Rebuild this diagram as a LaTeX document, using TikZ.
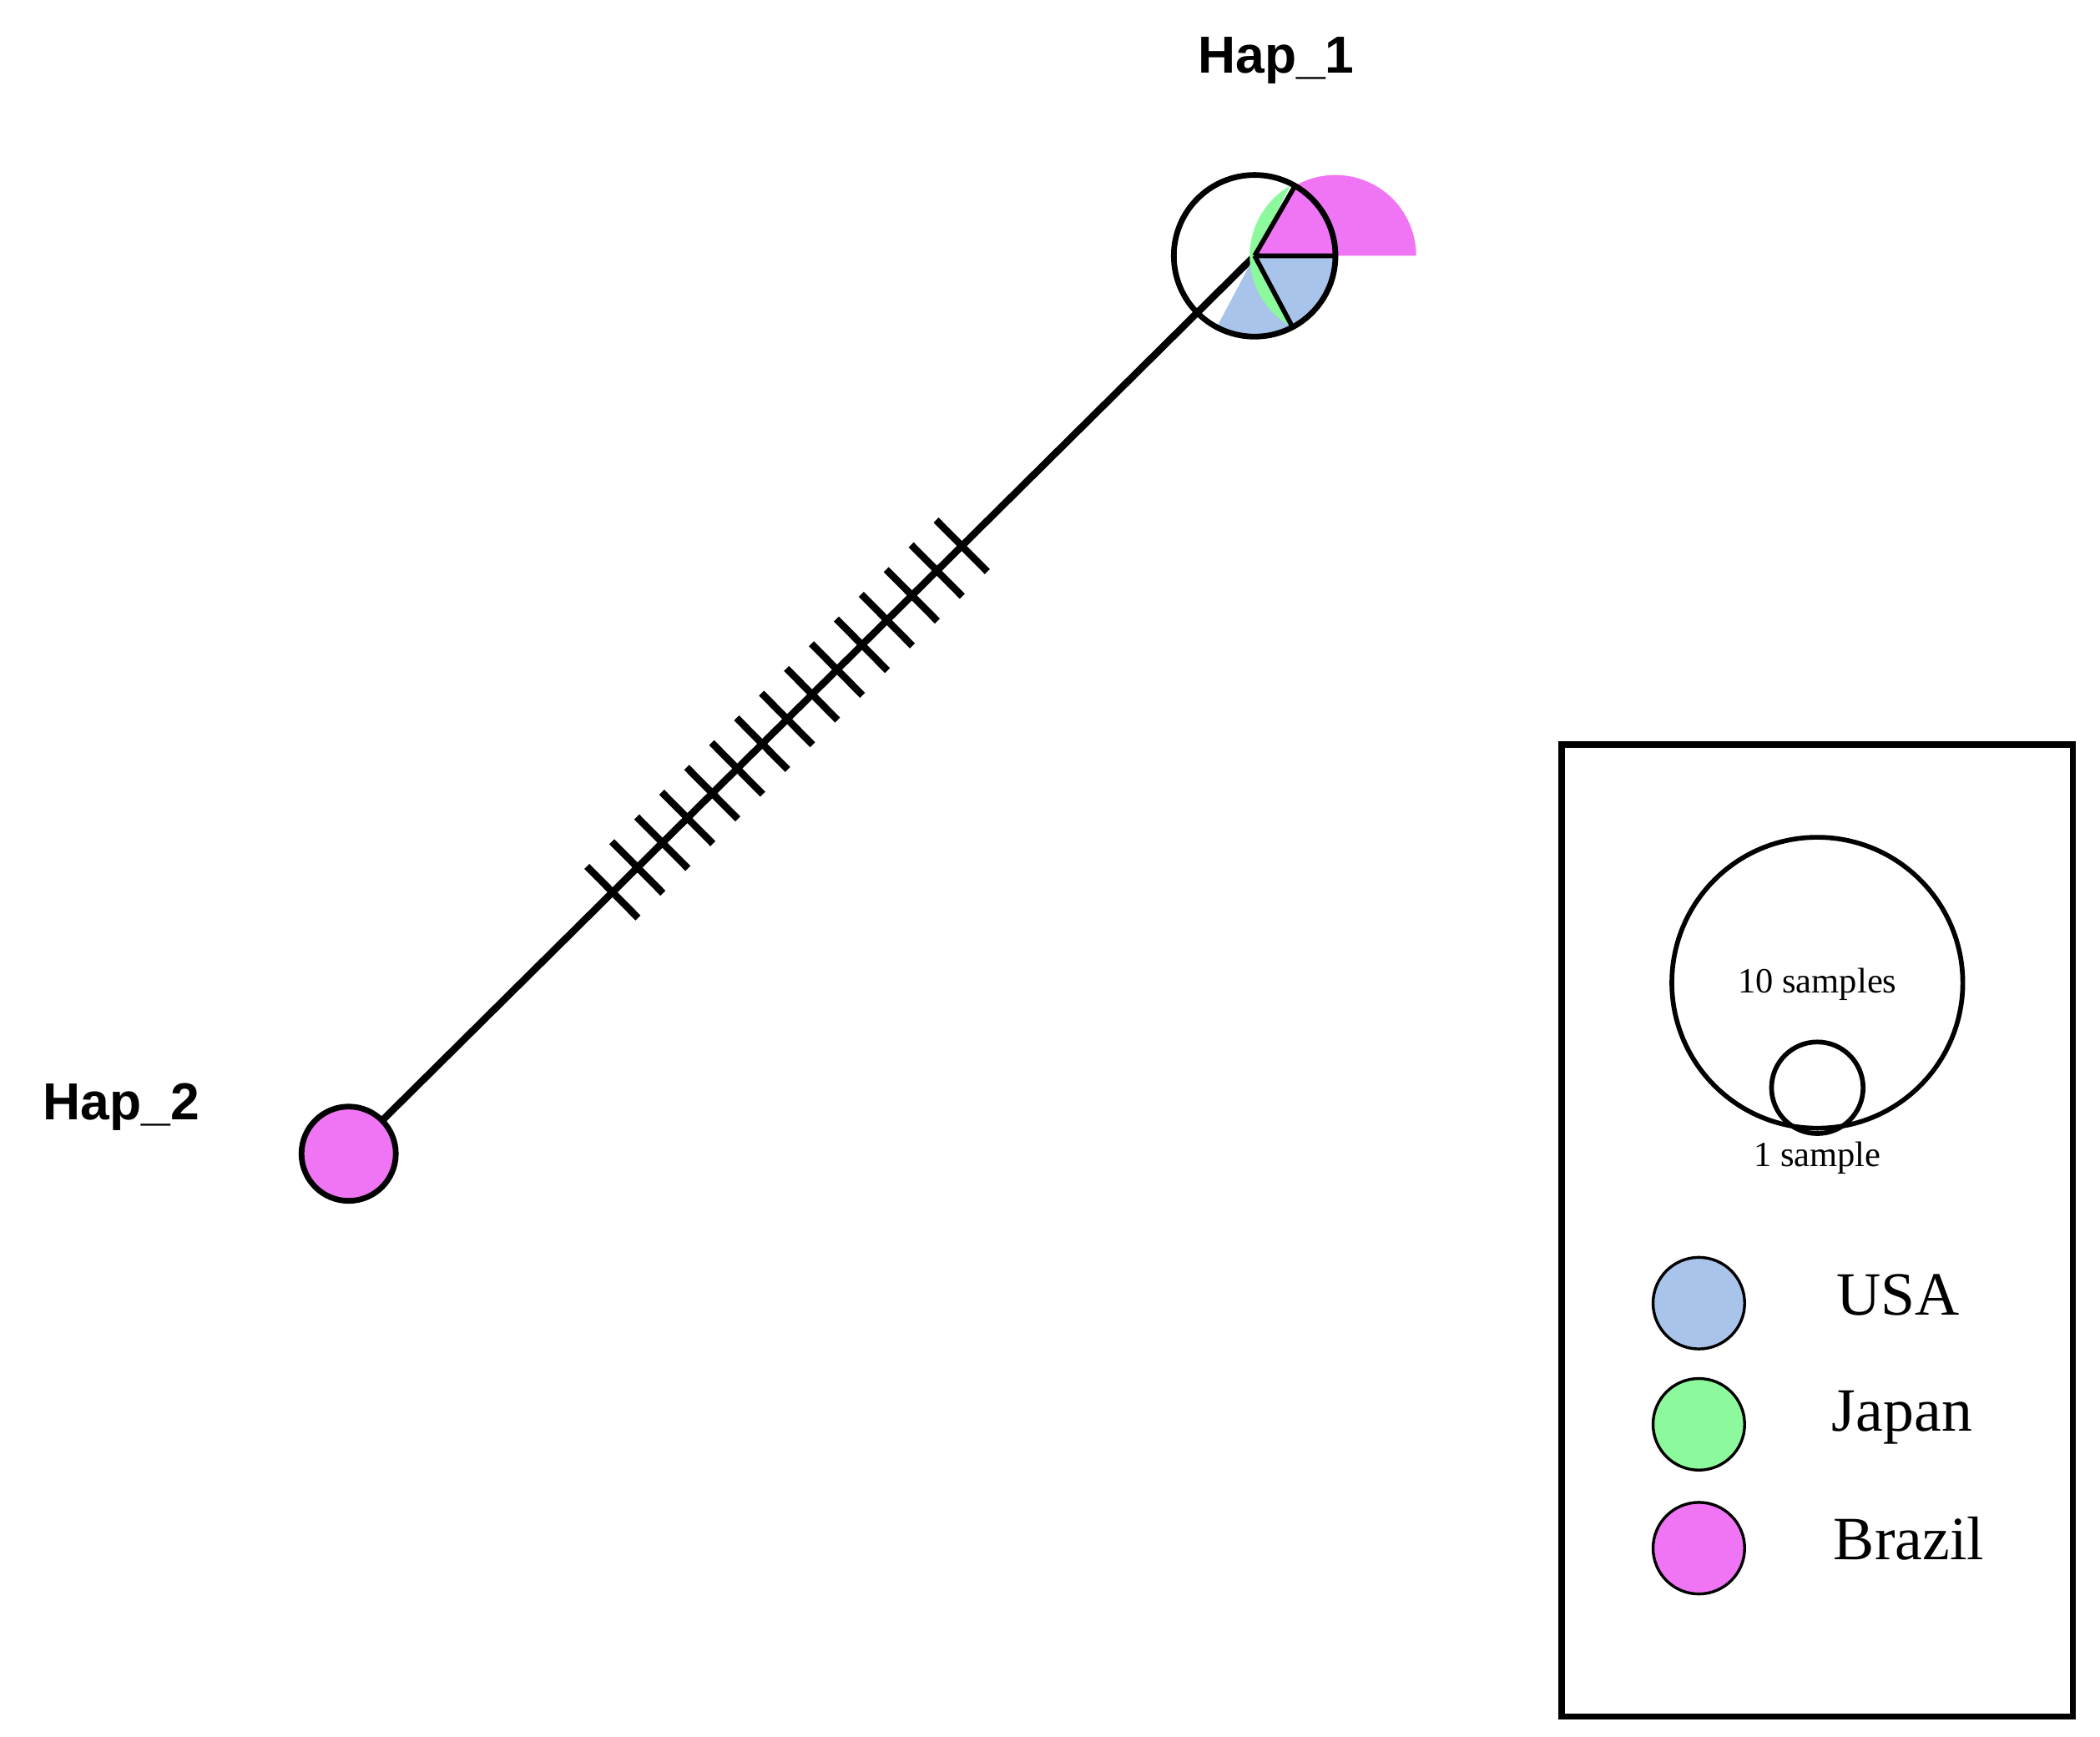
\documentclass[tikz,border=0pt]{standalone}
\usepackage{fontspec}
\setmainfont{Liberation Serif}
\newfontfamily\hapfont{Liberation Sans}
\definecolor{usa}{HTML}{A9C4EB}
\definecolor{jap}{HTML}{8CFA9C}
\definecolor{bra}{HTML}{F075F5}
\begin{document}
\begin{tikzpicture}[x=0.01cm,y=-0.01cm,
  edge/.style={line width=1.5pt},
  hap/.style={font=\hapfont\bfseries\fontsize{11}{13}\selectfont},
  leg/.style={circle,draw,line width=0.6pt,minimum size=0.68cm,inner sep=0pt},
  legtxt/.style={font=\fontsize{13}{15}\selectfont}]
\useasboundingbox (0,0) rectangle (1560,1290);
% edge
\coordinate (h1) at (932,190);
\coordinate (h2) at (259,857);
\draw[edge] (h2) -- (h1);
\foreach \i in {0,...,14}{
  \pgfmathsetmacro\t{276+\i*26.1}
  \pgfmathsetmacro\cx{259+0.710*\t}
  \pgfmathsetmacro\cy{857-0.704*\t}
  \draw[edge] (\cx-0.704*27,\cy-0.710*27) -- (\cx+0.704*27,\cy+0.710*27);
}
% Hap_1 pie
\fill[usa] (h1) -- (992,190) arc[start angle=0,end angle=118,radius=60] -- cycle;
\fill[jap] (h1) -- ++(118:-60 and 60) arc[start angle=118,end angle=240,radius=60] -- cycle;
\fill[bra] (h1) -- ++(240:-60 and 60) arc[start angle=240,end angle=360,radius=60] -- cycle;
\draw[line width=1pt] (h1) -- (992,190) (h1) -- ++(118:-60 and 60) (h1) -- ++(240:-60 and 60);
\node[circle,draw,line width=1.2pt,minimum size=1.2cm,inner sep=0pt] (n1) at (h1) {};
\node[circle,draw,line width=1.2pt,fill=bra,minimum size=0.7cm,inner sep=0pt] (n2) at (h2) {};
\node[hap] (l1) at (948,45) {Hap\_1};
\node[hap] (l2) at (90,822) {Hap\_2};
% legend
\draw[line width=1.3pt] (1160,553) rectangle (1540,1275);
\node[circle,draw,line width=1pt,minimum size=2.16cm,inner sep=0pt] (big) at (1350,730) {};
\node[circle,draw,line width=1pt,minimum size=0.68cm,inner sep=0pt] (small) at (1350,808) {};
\node[font=\fontsize{7.5}{9}\selectfont] (t10) at (1350,731) {10 samples};
\node[font=\fontsize{7.5}{9}\selectfont] (t1) at (1350,860) {1 sample};
\node[leg,fill=usa] (cu) at (1262,968) {};
\node[leg,fill=jap] (cj) at (1262,1058) {};
\node[leg,fill=bra] (cb) at (1262,1150) {};
\node[legtxt] (tu) at (1410,962) {USA};
\node[legtxt] (tj) at (1413,1053) {Japan};
\node[legtxt] (tb) at (1418,1143) {Brazil};
\end{tikzpicture}
\end{document}
